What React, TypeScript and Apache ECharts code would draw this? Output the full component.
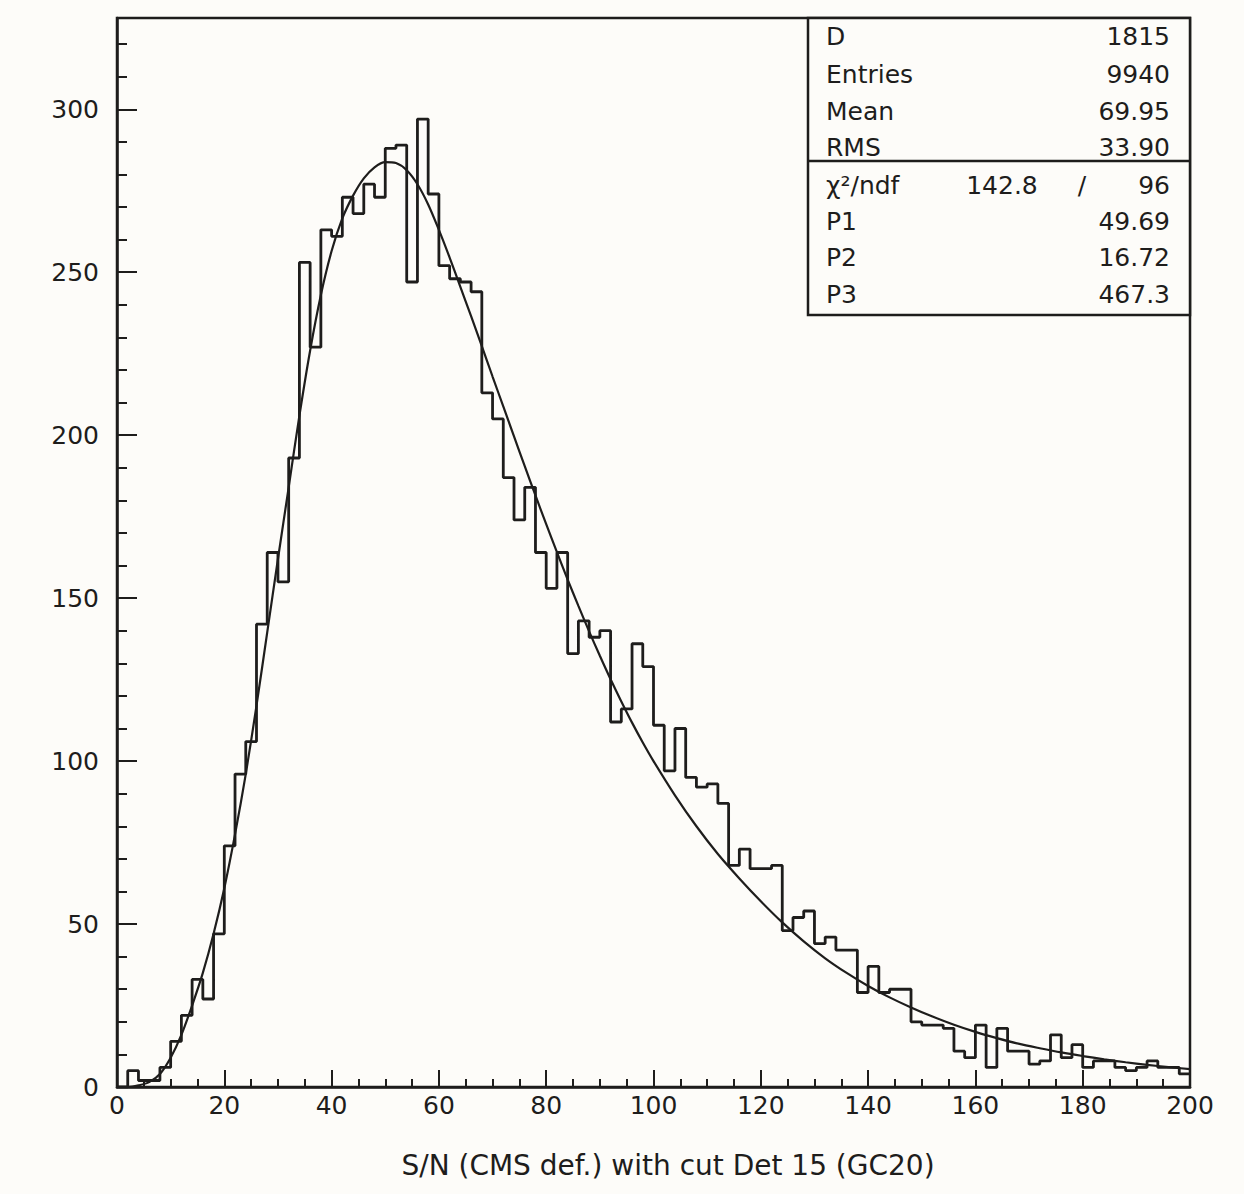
import React, { useEffect, useRef } from "react";
import * as echarts from "echarts";

// Histogram: 100 bins of width 2 over [0, 200]
const BIN_WIDTH = 2;
const binCounts = [
  0, 5, 2, 2, 6, 14, 22, 33, 27, 47,
  74, 96, 106, 142, 164, 155, 193, 253, 227, 263,
  261, 273, 268, 277, 273, 288, 289, 247, 297, 274,
  252, 248, 247, 244, 213, 205, 187, 174, 184, 164,
  153, 164, 133, 143, 138, 140, 112, 116, 136, 129,
  111, 97, 110, 95, 92, 93, 87, 68, 73, 67,
  67, 68, 48, 52, 54, 44, 46, 42, 42, 29,
  37, 29, 30, 30, 20, 19, 19, 18, 11, 9,
  19, 6, 18, 11, 11, 7, 8, 16, 9, 13,
  6, 8, 8, 6, 5, 6, 8, 6, 6, 4,
];

// Fitted curve
const fitX = [
  0, 2, 4, 6, 8, 10, 12, 14, 16, 18, 20, 22, 24, 26, 28, 30, 32, 34, 36, 38,
  40, 42, 44, 46, 48, 50, 52, 54, 56, 58, 60, 62, 64, 66, 68, 70, 72, 74, 76, 78,
  80, 82, 84, 86, 88, 90, 92, 94, 96, 98, 100, 104, 108, 112, 116, 120, 124, 128, 132, 136,
  140, 144, 148, 152, 156, 160, 164, 168, 172, 176, 180, 184, 188, 192, 196, 200,
];
const fitY = [
  0, 0, 0.5, 1.5, 4, 9, 16, 25, 35, 47, 61, 77.5, 96, 117, 139.5, 162, 184, 206, 226, 243,
  256.5, 266.5, 273.5, 278.8, 282.2, 283.8, 283.5, 281.3, 277, 270.8, 263, 254.5, 245.5, 236.5, 227.3, 218, 208.8, 199.6, 190.5, 181.5,
  172.7, 164.1, 155.7, 147.6, 139.8, 132.3, 125.1, 118.3, 111.8, 105.7, 100, 89.5, 80, 71.5, 64, 57, 50.5, 44.7, 39.5, 35,
  31, 27.5, 24.4, 21.6, 19.1, 16.9, 15, 13.3, 11.9, 10.6, 9.5, 8.5, 7.6, 6.8, 6.1, 5.5,
];

const xTicksMajor = [0, 20, 40, 60, 80, 100, 120, 140, 160, 180, 200];
const yTicksMajor = [0, 50, 100, 150, 200, 250, 300];

const statsTop = [
  ["D", "1815"],
  ["Entries", "9940"],
  ["Mean", "69.95"],
  ["RMS", "33.90"],
];
const chiLabel = "χ²/ndf";
const chiValue = "142.8";
const ndfValue = "96";
const statsFit = [
  ["P1", "49.69"],
  ["P2", "16.72"],
  ["P3", "467.3"],
];
const xTitle = "S/N (CMS def.) with cut Det 15 (GC20)";

const INK = "#1e1d1c";
const PAPER = "#fdfcf9";
const FONT = '"DejaVu Sans", "Liberation Sans", sans-serif';

export default function App() {
  const ref = useRef<HTMLDivElement>(null);

  useEffect(() => {
    document.body.style.margin = "0";
    document.body.style.overflow = "hidden";
    if (!ref.current) return;
    const chart = echarts.init(ref.current, undefined, { renderer: "svg" });

    const W = 1244;
    const gridLeft = 117;
    const gridTop = 18;
    const gridRight = 54;
    const gridBottom = 107;
    const frameRight = W - gridRight;

    const histData: number[][] = binCounts.map((v, i) => [i * BIN_WIDTH, v]);
    histData.push([binCounts.length * BIN_WIDTH, binCounts[binCounts.length - 1]]);
    const fitData = fitX.map((x, i) => [x, fitY[i]]);

    const boxLeft = 808;
    const boxBottom = 315;
    const divider = 161;
    const txtLeft = 826;
    const txtRight = frameRight - 20;
    const rowsTopY = [36, 74, 111, 147];
    const rowsFitY = [221, 257, 294];
    const chiY = 185;

    const textEl = (text: string, x: number, y: number, align: string) => ({
      type: "text",
      z: 110,
      style: {
        text,
        x,
        y,
        fill: INK,
        font: `25px ${FONT}`,
        textAlign: align,
        textVerticalAlign: "middle",
      },
    });

    const graphics: any[] = [
      {
        type: "rect",
        z: 105,
        shape: { x: boxLeft, y: gridTop, width: frameRight - boxLeft, height: boxBottom - gridTop },
        style: { fill: PAPER, stroke: INK, lineWidth: 2.5 },
      },
      {
        type: "line",
        z: 106,
        shape: { x1: boxLeft, y1: divider, x2: frameRight, y2: divider },
        style: { stroke: INK, lineWidth: 2.5 },
      },
    ];
    statsTop.forEach(([k, v], i) => {
      graphics.push(textEl(k, txtLeft, rowsTopY[i], "left"));
      graphics.push(textEl(v, txtRight, rowsTopY[i], "right"));
    });
    graphics.push(textEl(chiLabel, txtLeft, chiY, "left"));
    graphics.push(textEl(chiValue, 1002, chiY, "center"));
    graphics.push(textEl("/", 1082, chiY, "center"));
    graphics.push(textEl(ndfValue, txtRight, chiY, "right"));
    statsFit.forEach(([k, v], i) => {
      graphics.push(textEl(k, txtLeft, rowsFitY[i], "left"));
      graphics.push(textEl(v, txtRight, rowsFitY[i], "right"));
    });
    graphics.push({
      type: "text",
      z: 110,
      style: {
        text: xTitle,
        x: 668,
        y: 1165,
        fill: INK,
        font: `28px ${FONT}`,
        textAlign: "center",
        textVerticalAlign: "middle",
      },
    });

    const axisLineStyle = { color: INK, width: 2.5 };

    const option: any = {
      animation: false,
      backgroundColor: PAPER,
      grid: {
        left: gridLeft,
        top: gridTop,
        right: gridRight,
        bottom: gridBottom,
        show: true,
        borderColor: INK,
        borderWidth: 2.5,
        backgroundColor: "transparent",
      },
      xAxis: [
        {
          type: "value",
          min: 0,
          max: 200,
          interval: 20,
          axisLine: { show: true, onZero: false, lineStyle: axisLineStyle },
          axisTick: { show: true, inside: true, length: 17, lineStyle: { color: INK, width: 2 } },
          minorTick: { show: true, splitNumber: 4, length: 8, lineStyle: { color: INK, width: 2 } },
          splitLine: { show: false },
          minorSplitLine: { show: false },
          axisLabel: {
            show: true,
            margin: 6,
            color: INK,
            fontSize: 25,
            fontFamily: FONT,
            formatter: (v: number) => (xTicksMajor.includes(v) ? String(v) : ""),
          },
        },
      ],
      yAxis: [
        {
          type: "value",
          min: 0,
          max: 328,
          interval: 50,
          axisLine: { show: true, onZero: false, lineStyle: axisLineStyle },
          axisTick: { show: true, inside: true, length: 20, lineStyle: { color: INK, width: 2 } },
          splitLine: { show: false },
          axisLabel: {
            show: true,
            margin: 18,
            color: INK,
            fontSize: 25,
            fontFamily: FONT,
            showMaxLabel: false,
            formatter: (v: number) => (yTicksMajor.includes(v) ? String(v) : ""),
          },
        },
        {
          type: "value",
          min: 0,
          max: 328,
          interval: 10,
          position: "left",
          axisLine: { show: false },
          axisTick: { show: true, inside: true, length: 10, lineStyle: { color: INK, width: 2 } },
          splitLine: { show: false },
          axisLabel: { show: false },
        },
      ],
      series: [
        {
          type: "line",
          name: "histogram",
          data: histData,
          step: "end",
          showSymbol: false,
          symbol: "none",
          lineStyle: { color: INK, width: 2.8 },
          xAxisIndex: 0,
          yAxisIndex: 0,
          z: 3,
        },
        {
          type: "line",
          name: "fit",
          data: fitData,
          smooth: 0.3,
          showSymbol: false,
          symbol: "none",
          lineStyle: { color: INK, width: 2.2 },
          xAxisIndex: 0,
          yAxisIndex: 0,
          z: 4,
        },
      ],
      graphic: graphics,
    };

    chart.setOption(option);
    return () => {
      chart.dispose();
    };
  }, []);

  return <div ref={ref} style={{ width: 1244, height: 1194 }} />;
}
